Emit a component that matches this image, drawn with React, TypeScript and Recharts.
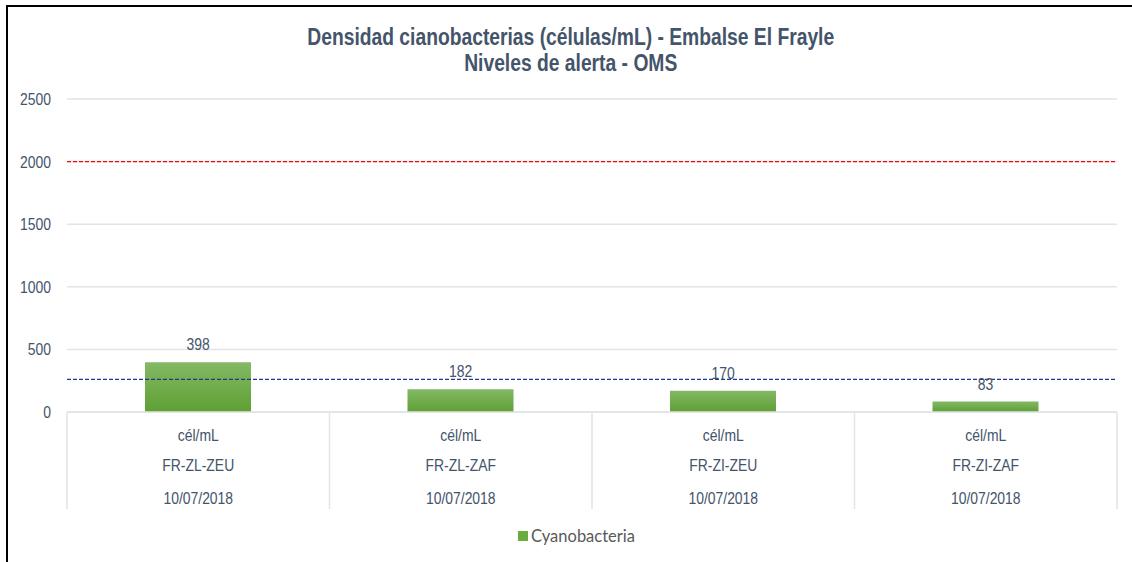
import React from 'react';
import { ComposedChart, Bar, XAxis, YAxis, CartesianGrid, ReferenceLine, LabelList, Legend } from 'recharts';

const STATIONS = ['FR-ZL-ZEU', 'FR-ZL-ZAF', 'FR-ZI-ZEU', 'FR-ZI-ZAF'];
const UNITS = ['cél/mL', 'cél/mL', 'cél/mL', 'cél/mL'];
const DATES = ['10/07/2018', '10/07/2018', '10/07/2018', '10/07/2018'];
const CYANOBACTERIA = [398, 182, 170, 83];
const Y_TICKS = [0, 500, 1000, 1500, 2000, 2500];
const ALERT_HIGH = 2000;
const ALERT_LOW = 260;
const TITLE_LINES = ['Densidad cianobacterias (células/mL) - Embalse El Frayle', 'Niveles de alerta - OMS'];
const SERIES_NAME = 'Cyanobacteria';

const data = STATIONS.map((s, i) => ({ station: s, unit: UNITS[i], date: DATES[i], value: CYANOBACTERIA[i] }));

const SANS = "'Liberation Sans', Arial, sans-serif";
const NARROW_SCALE = 0.82;
const TEXT = '#44546A';
const GRID = '#e1e4e9';
const RED = '#ff0000';
const BLUE = '#1f3a8a';

const W = 1124;
const H = 554;
const MARGIN = { top: 91, right: 15, bottom: 0, left: 0 };
const Y_W = 59;
const PLOT_W = W - MARGIN.left - MARGIN.right - Y_W;
const BAND = PLOT_W / STATIONS.length;

const NarrowText = ({ x, y, children, anchor = 'middle', size = 17 }: any) => (
  <text transform={`translate(${x},${y}) scale(${NARROW_SCALE},1)`} x={0} y={0} textAnchor={anchor} fill={TEXT} fontSize={size} fontFamily={SANS}>
    {children}
  </text>
);

const XTick = (props: any) => {
  const { x, y, index } = props;
  const d = data[index];
  const half = BAND / 2;
  return (
    <g>
      <line x1={x - half} x2={x - half} y1={y} y2={y + 97} stroke={GRID} strokeWidth={1.5} />
      {index === STATIONS.length - 1 && (
        <line x1={x + half} x2={x + half} y1={y} y2={y + 97} stroke={GRID} strokeWidth={1.5} />
      )}
      <NarrowText x={x} y={y + 29}>{d.unit}</NarrowText>
      <NarrowText x={x} y={y + 59}>{d.station}</NarrowText>
      <NarrowText x={x} y={y + 92}>{d.date}</NarrowText>
    </g>
  );
};

const YTick = (props: any) => {
  const { x, y, payload } = props;
  return <NarrowText x={x} y={y + 6} anchor="end">{payload.value}</NarrowText>;
};

const BarLabel = (props: any) => {
  const { x, y, width, value } = props;
  return <NarrowText x={x + width / 2} y={y - 12}>{value}</NarrowText>;
};

const LegendContent = () => (
  <div style={{ display: 'flex', justifyContent: 'center', alignItems: 'center', fontFamily: "Lato, 'Open Sans', sans-serif", fontSize: 16.5, color: '#595959', paddingLeft: 28 }}>
    <span style={{ display: 'inline-block', width: 10, height: 10, background: '#6aab42', marginRight: 3 }} />
    <span>{SERIES_NAME}</span>
  </div>
);

export default function App() {
  return (
    <div style={{ width: W, height: H, position: 'relative', background: '#fff' }}>
      <div style={{ position: 'absolute', left: 0, top: 0, width: W, textAlign: 'center', fontFamily: SANS, fontWeight: 'bold', fontSize: 23.5, color: TEXT, lineHeight: '26px', paddingTop: 16, transform: `scaleX(${NARROW_SCALE})`, transformOrigin: '566px 0', zIndex: 2 }}>
        {TITLE_LINES.map((t) => (<div key={t}>{t}</div>))}
      </div>
      <ComposedChart width={W} height={H} data={data} margin={MARGIN} style={{ position: 'absolute', left: 0, top: 0 }}>
        <defs>
          <linearGradient id="barGrad" x1="0" y1="0" x2="0" y2="1">
            <stop offset="0%" stopColor="#83b964" />
            <stop offset="100%" stopColor="#5f9f34" />
          </linearGradient>
        </defs>
        <CartesianGrid vertical={false} stroke={GRID} strokeWidth={1.5} />
        <XAxis dataKey="station" interval={0} tickLine={false} tickSize={0} tickMargin={0} height={130} axisLine={{ stroke: GRID, strokeWidth: 1.5 }} tick={<XTick />} />
        <YAxis domain={[0, 2500]} ticks={Y_TICKS} width={Y_W} axisLine={false} tickLine={false} tickSize={0} tickMargin={16} tick={<YTick />} />
        <Bar dataKey="value" name={SERIES_NAME} barSize={106} fill="url(#barGrad)" isAnimationActive={false}>
          <LabelList dataKey="value" content={<BarLabel />} />
        </Bar>
        <ReferenceLine key="alert-high" y={ALERT_HIGH} stroke={RED} strokeWidth={1.3} strokeDasharray="4 2" />
        <ReferenceLine key="alert-low" y={ALERT_LOW} stroke={BLUE} strokeWidth={1.3} strokeDasharray="4 2" />
        <Legend verticalAlign="bottom" content={<LegendContent />} wrapperStyle={{ bottom: 16 }} />
      </ComposedChart>
      <div style={{ position: 'fixed', left: 6, top: 6, width: 2, height: 556, background: '#000', zIndex: 5 }} />
      <div style={{ position: 'fixed', left: 6, top: 5, width: 1126, height: 2, background: '#000', zIndex: 5 }} />
    </div>
  );
}
